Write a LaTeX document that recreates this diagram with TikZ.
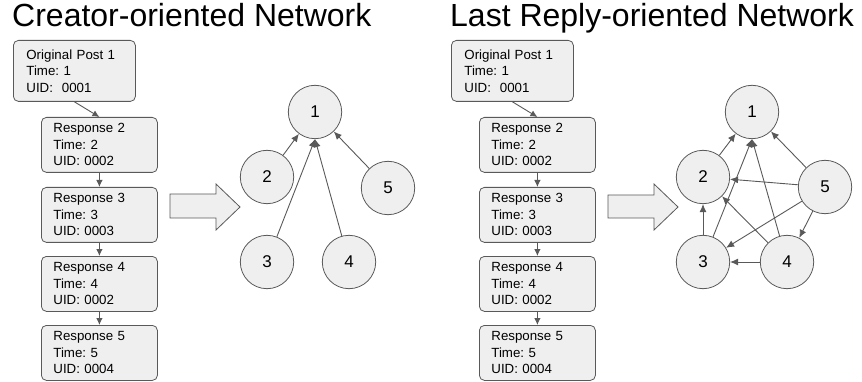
\documentclass[tikz,border=0pt]{standalone}
\usepackage{fontspec}
\setmainfont{Liberation Sans}
\usetikzlibrary{arrows.meta}
\definecolor{fillc}{HTML}{EFEFEF}
\definecolor{linec}{HTML}{595959}
\frenchspacing
\begin{document}
\begin{tikzpicture}[x=1pt,y=-1pt,
 postbox/.style={draw=linec,fill=fillc,rounded corners=5pt,line width=0.8pt,anchor=north west,align=left,font=\fontsize{13.3}{16.5}\selectfont,inner xsep=12pt,text width=92pt,minimum height=55pt},
 firstbox/.style={postbox,inner xsep=13pt,text width=96pt,minimum height=61pt},
 usernode/.style={circle,draw=linec,fill=fillc,line width=0.8pt,minimum size=53.4pt,inner sep=0pt,font=\fontsize{17}{20}\selectfont},
 edge/.style={draw=linec,line width=0.9pt,-{Latex[length=8pt,width=7pt]}},
 boxedge/.style={draw=linec,line width=0.9pt,-{Latex[length=7pt,width=6.5pt]}},
 blockarrow/.style={draw=linec,fill=fillc,line width=0.8pt},
 title/.style={anchor=base west,inner sep=0pt,font=\fontsize{32}{38}\selectfont}]
\useasboundingbox (0,0) rectangle (862,382);

% ---------- left panel ----------
\node[title] (lt) at (12,27) {Creator-oriented Network};
\node[firstbox] (lb1) at (13,40) {Original Post 1\\Time: 1\\UID:\ \ 0001};
\node[postbox] (lb2) at (41,117) {Response 2\\Time: 2\\UID: 0002};
\node[postbox] (lb3) at (41,187) {Response 3\\Time: 3\\UID: 0003};
\node[postbox] (lb4) at (41,256) {Response 4\\Time: 4\\UID: 0002};
\node[postbox] (lb5) at (41,325) {Response 5\\Time: 5\\UID: 0004};
\draw[boxedge] (lb1.south) -- (lb2.north);
\draw[boxedge] (lb2.south) -- (lb3.north);
\draw[boxedge] (lb3.south) -- (lb4.north);
\draw[boxedge] (lb4.south) -- (lb5.north);

\draw[blockarrow] (170,194) -- (216,194) -- (216,184) -- (240,207) -- (216,230) -- (216,218) -- (170,218) -- cycle;

\node[usernode] (l1) at (315,112) {1};
\node[usernode] (l2) at (267,177) {2};
\node[usernode] (l5) at (388,188) {5};
\node[usernode] (l3) at (267,262) {3};
\node[usernode] (l4) at (349,262) {4};
\draw[edge] (l2) -- (l1);
\draw[edge] (l3) -- (l1.south);
\draw[edge] (l4) -- (l1.south);
\draw[edge] (l5) -- (l1);

% ---------- right panel ----------
\node[title] (rt) at (450,27) {Last Reply-oriented Network};
\node[firstbox] (rb1) at (451,40) {Original Post 1\\Time: 1\\UID:\ \ 0001};
\node[postbox] (rb2) at (479,117) {Response 2\\Time: 2\\UID: 0002};
\node[postbox] (rb3) at (479,187) {Response 3\\Time: 3\\UID: 0003};
\node[postbox] (rb4) at (479,256) {Response 4\\Time: 4\\UID: 0002};
\node[postbox] (rb5) at (479,325) {Response 5\\Time: 5\\UID: 0004};
\draw[boxedge] (rb1.south) -- (rb2.north);
\draw[boxedge] (rb2.south) -- (rb3.north);
\draw[boxedge] (rb3.south) -- (rb4.north);
\draw[boxedge] (rb4.south) -- (rb5.north);

\draw[blockarrow] (608,195) -- (654,195) -- (654,184) -- (678,207) -- (654,230) -- (654,218) -- (608,218) -- cycle;

\node[usernode] (r1) at (752,112) {1};
\node[usernode] (r2) at (703,177) {2};
\node[usernode] (r5) at (825,187) {5};
\node[usernode] (r3) at (703,262) {3};
\node[usernode] (r4) at (787,262) {4};
\draw[edge] (r2) -- (r1);
\draw[edge] (r3) -- (r1.south);
\draw[edge] (r4) -- (r1.south);
\draw[edge] (r5) -- (r1);
\draw[edge] (r5) -- (r2);
\draw[edge] (r5) -- (r3);
\draw[edge] (r5) -- (r4);
\draw[edge] (r4) -- (r2);
\draw[edge] (r4) -- (r3);
\draw[edge] (r3) -- (r2);
\end{tikzpicture}
\end{document}
